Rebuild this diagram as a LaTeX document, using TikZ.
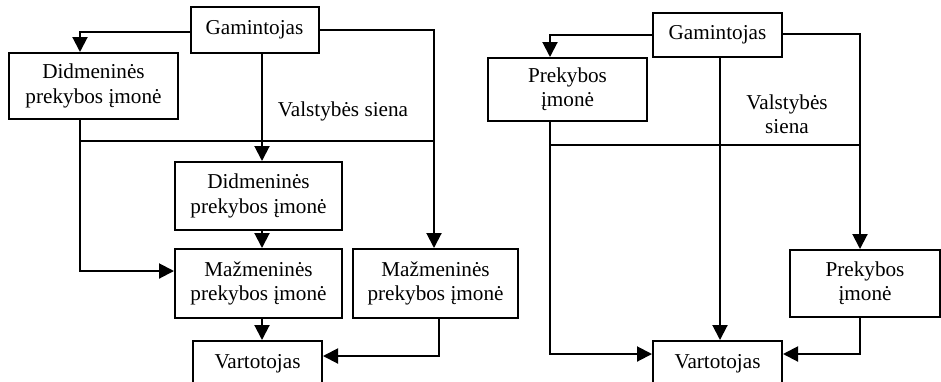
\documentclass[tikz,border=0pt]{standalone}
\usepackage{fontspec}
\setmainfont{Liberation Serif}
\usetikzlibrary{arrows.meta}
\begin{document}
\begin{tikzpicture}[x=0.5pt,y=-0.5pt,
  box/.style={draw,line width=1pt,inner sep=0pt,align=center,
    font=\fontsize{10.6}{12.2}\selectfont},
  lbl/.style={inner sep=0pt,align=center,font=\fontsize{10.6}{12.2}\selectfont},
  link/.style={line width=1pt},
  arr/.style={line width=1pt,-{Triangle[length=7.5pt,width=7.5pt]}},
  border/.style={line width=0.8pt}]
\useasboundingbox (0,0) rectangle (941,381);
\clip (0,0) rectangle (941,381);

% ---- left scheme: wholesale and retail chain ----
\node[box,minimum width=64pt,minimum height=23pt] (g1) at (254.5,30) {Gamintojas};
\node[box,minimum width=84.5pt,minimum height=33pt] (d1) at (93.5,86) {Didmeninės\\prekybos įmonė};
\node[box,minimum width=83.5pt,minimum height=34pt] (d2) at (258.5,196) {Didmeninės\\prekybos įmonė};
\node[box,minimum width=83.5pt,minimum height=34.5pt] (m1) at (258.5,283.5) {Mažmeninės\\prekybos įmonė};
\node[box,minimum width=82.5pt,minimum height=34.5pt] (m2) at (435.5,283.5) {Mažmeninės\\prekybos įmonė};
\node[box,minimum width=64.5pt,minimum height=23pt] (v1) at (257.5,364) {Vartotojas};
\node[lbl] (s1) at (343,111) {Valstybės siena};

\coordinate (a1) at (80,32);
\coordinate (a2) at (262,0);
\coordinate (a3) at (434,30);
\coordinate (a4) at (80,271);
\coordinate (a5) at (439,356);

\draw[arr] (g1.west |- a1) -| (d1.north -| a1);
\draw[arr] (g1.south -| a2) -- (d2.north -| a2);
\draw[arr] (g1.east |- a3) -| (m2.north -| a3);
\draw[arr] (d2.south -| a2) -- (m1.north -| a2);
\draw[arr] (d1.south -| a4) |- (m1.west |- a4);
\draw[arr] (m1.south -| a2) -- (v1.north -| a2);
\draw[arr] (m2.south -| a5) |- (v1.east |- a5);
\coordinate (b1) at (80,141);
\coordinate (b2) at (434,141);
\draw[border] (b1) -- (b2);

% ---- right scheme: single trading company ----
\node[box,minimum width=64.5pt,minimum height=22pt] (g2) at (717.5,35) {Gamintojas};
\node[box,minimum width=79.5pt,minimum height=31.5pt] (p1) at (567.5,89.5) {Prekybos\\įmonė};
\node[box,minimum width=75pt,minimum height=33.5pt] (p2) at (865,283.5) {Prekybos\\įmonė};
\node[box,minimum width=64.5pt,minimum height=23pt] (v2) at (717.5,364) {Vartotojas};
\node[lbl] (s2) at (787,114) {Valstybės\\siena};

\coordinate (c1) at (550,35);
\coordinate (c2) at (720,0);
\coordinate (c3) at (860,34);
\coordinate (c4) at (550,354);
\coordinate (c5) at (860,354);

\draw[arr] (g2.west |- c1) -| (p1.north -| c1);
\draw[arr] (g2.south -| c2) -- (v2.north -| c2);
\draw[arr] (g2.east |- c3) -| (p2.north -| c3);
\draw[arr] (p1.south -| c4) |- (v2.west |- c4);
\draw[arr] (p2.south -| c5) |- (v2.east |- c5);
\coordinate (e1) at (550,145);
\coordinate (e2) at (860,145);
\draw[border] (e1) -- (e2);
\end{tikzpicture}
\end{document}
